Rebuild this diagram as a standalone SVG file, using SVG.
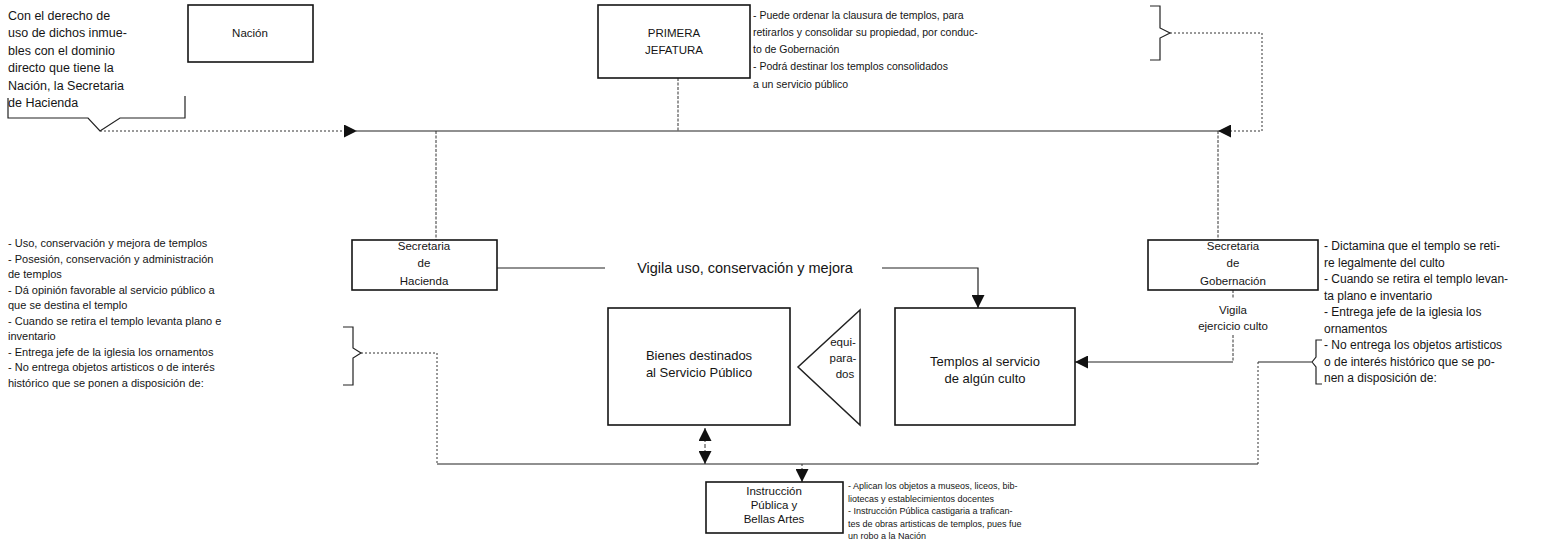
<svg xmlns="http://www.w3.org/2000/svg" width="1556" height="541" viewBox="0 0 1556 541">
<defs>
<style>
.t{font-family:"Liberation Sans",Arial,sans-serif;font-size:11.5px;fill:#151515}
.tl{font-size:12.5px}
.tr{font-size:10.5px}
.tg{font-size:12px}
.tb{font-size:9px}
.tm{font-size:13px}
.tv{font-size:14.5px}
.tx{font-size:11px}
.c{text-anchor:middle}
.box{fill:#fff;stroke:#151515;stroke-width:1.6}
.ln{fill:none;stroke:#222;stroke-width:1.2}
.dt{fill:none;stroke:#333;stroke-width:1;stroke-dasharray:2 2}
.ds{fill:none;stroke:#333;stroke-width:1;stroke-dasharray:3 1.5}
</style>
<marker id="ah" viewBox="0 0 10 10" refX="10" refY="5" markerUnits="userSpaceOnUse" markerWidth="16" markerHeight="13" orient="auto">
<path d="M0,0 L10,5 L0,10 z" fill="#111"/>
</marker>
</defs>
<rect width="1556" height="541" fill="#fff"/>

<g id="connectors">
<path class="ln" d="M8,98 V118 H88 L100,131 L120,118 H185 V96"/>
<path class="dt" d="M100,131 H357" marker-end="url(#ah)"/>
<path class="ln" d="M357,131 H1218"/>
<path class="ds" d="M678,78 V131"/>
<path class="ln" d="M1150,6 H1160 V28 L1170,33 L1160,38 V60 H1150"/>
<path class="dt" d="M1170,33 H1262 V131 H1218" marker-end="url(#ah)"/>
<path class="ds" d="M436,131 V240"/>
<path class="ds" d="M1218,131 V240"/>
<path class="ln" d="M497,268 H605"/>
<path class="ln" d="M882,268 H978 V308" marker-end="url(#ah)"/>
<path class="ds" d="M1233,290 V299"/>
<path class="ds" d="M1233,335 V362"/>
<path class="ln" d="M1233,362 H1075" marker-end="url(#ah)"/>
<path class="dt" d="M705,446 V428" marker-end="url(#ah)"/>
<path class="dt" d="M705,446 V464" marker-end="url(#ah)"/>
<path class="ln" d="M343,327 H353 V348 L361,353 L353,358 V385 H343"/>
<path class="dt" d="M361,353 H437 V464"/>
<path class="ln" d="M437,464 H1258"/>
<path class="dt" d="M1258,464 V362"/>
<path class="ln" d="M1258,362 H1312 L1316,357 V340 H1322 M1312,362 L1316,367 V384 H1322"/>
<path class="dt" d="M802,464 V482" marker-end="url(#ah)"/>
</g>

<g id="note-hacienda-top">
<text class="t tl" x="8" y="19.5">Con el derecho de</text>
<text class="t tl" x="8" y="36.5">uso de dichos inmue-</text>
<text class="t tl" x="8" y="54.5">bles con el dominio</text>
<text class="t tl" x="8" y="71.5">directo que tiene la</text>
<text class="t tl" x="8" y="89.5">Nación, la Secretaria</text>
<text class="t tl" x="8" y="106.5">de Hacienda</text>
</g>

<g id="nacion">
<rect class="box" x="188" y="5" width="125" height="57"/>
<text class="t c" x="250" y="37">Nación</text>
</g>

<g id="primera-jefatura">
<rect class="box" x="598" y="5" width="152" height="73"/>
<text class="t c" x="674" y="37">PRIMERA</text>
<text class="t c" x="674" y="54">JEFATURA</text>
</g>

<g id="note-primera">
<text class="t tr" x="753" y="19">- Puede ordenar la clausura de templos, para</text>
<text class="t tr" x="753" y="36">retirarlos y consolidar su propiedad, por conduc-</text>
<text class="t tr" x="753" y="53">to de Gobernación</text>
<text class="t tr" x="753" y="70">- Podrá destinar los templos consolidados</text>
<text class="t tr" x="753" y="88">a un servicio público</text>
</g>

<g id="hacienda">
<rect class="box" x="352" y="240" width="145" height="50"/>
<text class="t c" x="424" y="250">Secretaria</text>
<text class="t c" x="424" y="267">de</text>
<text class="t c" x="424" y="285">Hacienda</text>
</g>

<g id="note-hacienda">
<text class="t tx" x="8" y="247">- Uso, conservación y mejora de templos</text>
<text class="t tx" x="8" y="262.5">- Posesión, conservación y administración</text>
<text class="t tx" x="8" y="278">de templos</text>
<text class="t tx" x="8" y="293.5">- Dá opinión favorable al servicio público a</text>
<text class="t tx" x="8" y="309">que se destina el templo</text>
<text class="t tx" x="8" y="324.5">- Cuando se retira el templo levanta plano e</text>
<text class="t tx" x="8" y="340">inventario</text>
<text class="t tx" x="8" y="355.5">- Entrega jefe de la iglesia los ornamentos</text>
<text class="t tx" x="8" y="371">- No entrega objetos artisticos o de interés</text>
<text class="t tx" x="8" y="386.5">histórico que se ponen a disposición de:</text>
</g>

<g id="label-vigila-uso">
<text class="t tv c" x="745" y="273">Vigila uso, conservación y mejora</text>
</g>

<g id="gobernacion">
<rect class="box" x="1148" y="240" width="170" height="50"/>
<text class="t c" x="1233" y="250">Secretaria</text>
<text class="t c" x="1233" y="267">de</text>
<text class="t c" x="1233" y="285">Gobernación</text>
</g>

<g id="note-gobernacion">
<text class="t tg" x="1324" y="250">- Dictamina que el templo se reti-</text>
<text class="t tg" x="1324" y="266.5">re legalmente del culto</text>
<text class="t tg" x="1324" y="283">- Cuando se retira el templo levan-</text>
<text class="t tg" x="1324" y="299.5">ta plano e inventario</text>
<text class="t tg" x="1324" y="316">- Entrega jefe de la iglesia los</text>
<text class="t tg" x="1324" y="332.5">ornamentos</text>
<text class="t tg" x="1324" y="349">- No entrega los objetos artisticos</text>
<text class="t tg" x="1324" y="365.5">o de interés histórico que se po-</text>
<text class="t tg" x="1324" y="382">nen a disposición de:</text>
</g>

<g id="label-vigila-culto">
<text class="t c" x="1233" y="314">Vigila</text>
<text class="t c" x="1233" y="330">ejercicio culto</text>
</g>

<g id="bienes">
<rect class="box" x="608" y="308" width="182" height="117"/>
<text class="t tm c" x="699" y="360">Bienes destinados</text>
<text class="t tm c" x="699" y="377">al Servicio Público</text>
</g>

<g id="equiparados">
<path class="ln" d="M860,310 L798,367 L860,425 Z" style="stroke-width:1.5"/>
<text class="t c" x="843" y="346">equi-</text>
<text class="t c" x="843" y="362">para-</text>
<text class="t c" x="845" y="378">dos</text>
</g>

<g id="templos">
<rect class="box" x="895" y="308" width="180" height="117"/>
<text class="t tm c" x="985" y="366">Templos al servicio</text>
<text class="t tm c" x="985" y="383">de algún culto</text>
</g>

<g id="instruccion">
<rect class="box" x="706" y="482" width="137" height="51"/>
<text class="t c" x="774" y="495">Instrucción</text>
<text class="t c" x="774" y="509">Pública y</text>
<text class="t c" x="774" y="523">Bellas Artes</text>
</g>

<g id="note-instruccion">
<text class="t tb" x="848" y="489">- Aplican los objetos a museos, liceos, bib-</text>
<text class="t tb" x="848" y="501.5">liotecas y establecimientos docentes</text>
<text class="t tb" x="848" y="514">- Instrucción Pública castigaria a trafican-</text>
<text class="t tb" x="848" y="526.5">tes de obras artisticas de templos, pues fue</text>
<text class="t tb" x="848" y="539">un robo a la Nación</text>
</g>
</svg>
